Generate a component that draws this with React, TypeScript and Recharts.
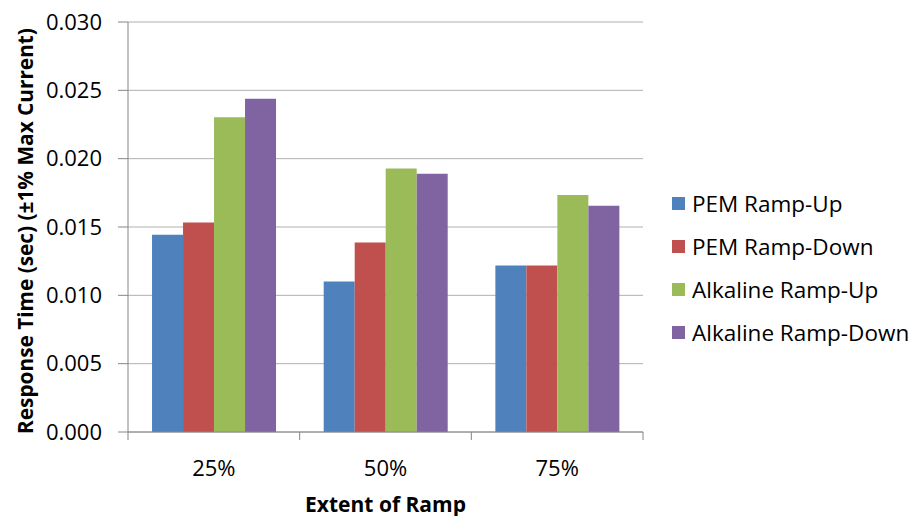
import React from 'react';
import { BarChart, Bar, XAxis, YAxis, CartesianGrid, Legend, Label } from 'recharts';

const categories = ['25%', '50%', '75%'];
const pemRampUp = [0.01443, 0.01101, 0.01218];
const pemRampDown = [0.01533, 0.01387, 0.01218];
const alkalineRampUp = [0.02303, 0.01928, 0.01735];
const alkalineRampDown = [0.02438, 0.01889, 0.01655];
const yTicks = [0, 0.005, 0.01, 0.015, 0.02, 0.025, 0.03];

const seriesNames = ['PEM Ramp-Up', 'PEM Ramp-Down', 'Alkaline Ramp-Up', 'Alkaline Ramp-Down'];
const seriesKeys = ['pemUp', 'pemDown', 'alkUp', 'alkDown'];
const seriesColors = ['#4f81bd', '#c0504d', '#9bbb59', '#8064a2'];

const data = categories.map((c, i) => ({
  category: c,
  pemUp: pemRampUp[i],
  pemDown: pemRampDown[i],
  alkUp: alkalineRampUp[i],
  alkDown: alkalineRampDown[i],
}));

const FONT = '"Open Sans", sans-serif';
const AXIS_COLOR = '#868686';

const XTick = (props: any) => {
  const { x, y, payload, index, visibleTicksCount, width } = props;
  const band = width / visibleTicksCount;
  const top = y - 8;
  return (
    <g>
      <line x1={x - band / 2} y1={top} x2={x - band / 2} y2={top + 8} stroke={AXIS_COLOR} />
      {index === visibleTicksCount - 1 && (
        <line x1={x + band / 2} y1={top} x2={x + band / 2} y2={top + 8} stroke={AXIS_COLOR} />
      )}
      <text x={x} y={top + 44} textAnchor="middle" fontFamily={FONT} fontSize={22} fill="#000">
        {payload.value}
      </text>
    </g>
  );
};

const LegendContent = (props: any) => {
  const { payload } = props;
  const items = [...(payload || [])].sort(
    (a: any, b: any) => seriesNames.indexOf(a.value) - seriesNames.indexOf(b.value)
  );
  return (
    <div style={{ fontFamily: FONT, fontSize: 22.5, color: '#000', paddingLeft: 29, paddingTop: 20, whiteSpace: 'nowrap' }}>
      {items.map((p: any, i: number) => (
        <div key={i} style={{ display: 'flex', alignItems: 'center', height: 43 }}>
          <span style={{ display: 'inline-block', flexShrink: 0, width: 13, height: 13, background: p.color, marginRight: 7 }} />
          <span>{p.value}</span>
        </div>
      ))}
    </div>
  );
};

const YTitle = (props: any) => {
  const { viewBox } = props;
  const cx = viewBox.x + 25;
  const cy = viewBox.y + viewBox.height / 2 + 4;
  return (
    <text
      x={cx}
      y={cy}
      transform={`rotate(-90, ${cx}, ${cy})`}
      textAnchor="middle"
      dominantBaseline="central"
      fontFamily={FONT}
      fontWeight="bold"
      fontSize={20.8}
      fill="#000"
    >
      Response Time (sec) (±1% Max Current)
    </text>
  );
};

export default function App() {
  return (
    <div style={{ position: 'absolute', left: 0, top: 0, width: 923, height: 516, background: '#fff' }}>
      <BarChart
        width={923}
        height={516}
        data={data}
        margin={{ top: 22, right: 21, bottom: 0, left: 0 }}
        barCategoryGap="14%"
        barGap={0}
      >
        <CartesianGrid vertical={false} stroke="#b0b0b0" />
        <XAxis
          dataKey="category"
          axisLine={{ stroke: AXIS_COLOR }}
          tickLine={false}
          tick={<XTick />}
          height={84}
        >
          <Label
            value="Extent of Ramp"
            position="insideBottom"
            offset={4}
            style={{ fontFamily: FONT, fontWeight: 'bold', fontSize: 21, fill: '#000' }}
          />
        </XAxis>
        <YAxis
          domain={[0, 0.03]}
          ticks={yTicks}
          tickFormatter={(v: number) => v.toFixed(3)}
          width={128}
          axisLine={{ stroke: AXIS_COLOR }}
          tickLine={{ stroke: AXIS_COLOR }}
          tickSize={10}
          tickMargin={16}
          tick={{ fontFamily: FONT, fontSize: 22, fill: '#000' }}
          interval={0}
        >
          <Label content={<YTitle />} />
        </YAxis>
        <Legend
          layout="vertical"
          align="right"
          verticalAlign="middle"
          content={<LegendContent />}
          wrapperStyle={{ width: 259 }}
        />
        {seriesKeys.map((k, i) => (
          <Bar key={k} dataKey={k} name={seriesNames[i]} fill={seriesColors[i]} isAnimationActive={false} />
        ))}
      </BarChart>
    </div>
  );
}
